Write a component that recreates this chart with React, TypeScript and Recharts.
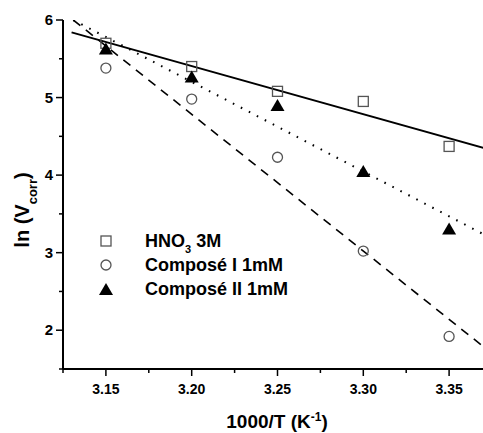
import {
  ScatterChart,
  Scatter,
  XAxis,
  YAxis,
} from "recharts";

const temps = [3.15, 3.2, 3.25, 3.3, 3.35];
const hno3 = [5.7, 5.4, 5.08, 4.95, 4.37];
const composeI = [5.38, 4.98, 4.23, 3.02, 1.92];
const composeII = [5.62, 5.26, 4.89, 4.04, 3.3];

// fit lines, end points
const hno3Fit = [
  { x: 3.13, y: 5.84 },
  { x: 3.375, y: 4.32 },
];
const composeIFit = [
  { x: 3.131, y: 6.0 },
  { x: 3.375, y: 1.7 },
];
const composeIIFit = [
  { x: 3.131, y: 6.0 },
  { x: 3.375, y: 3.18 },
];

const xTicks = [3.125, 3.15, 3.175, 3.2, 3.225, 3.25, 3.275, 3.3, 3.325, 3.35, 3.375];
const yTicks = [1.5, 2, 2.5, 3, 3.5, 4, 4.5, 5, 5.5, 6];
const majorX = [3.15, 3.2, 3.25, 3.3, 3.35];

const font = "'Liberation Sans', Arial, sans-serif";

const toPoints = (ys: number[]) => temps.map((x, i) => ({ x, y: ys[i] }));

const SquareDot = ({ cx, cy }: any) => (
  <rect x={cx - 5} y={cy - 5} width={10} height={10} fill="none" stroke="#555" strokeWidth={1.3} />
);
const CircleDot = ({ cx, cy }: any) => (
  <circle cx={cx} cy={cy} r={5} fill="none" stroke="#555" strokeWidth={1.3} />
);
const TriangleDot = ({ cx, cy }: any) => (
  <polygon points={`${cx},${cy - 7} ${cx - 7},${cy + 5} ${cx + 7},${cy + 5}`} fill="#000" />
);
const NoDot = () => <g />;

const XTick = ({ x, y, payload }: any) => {
  const v = payload.value;
  const major = majorX.some((m) => Math.abs(m - v) < 1e-6);
  return (
    <g>
      <line x1={x} y1={y} x2={x} y2={y + (major ? 7 : 4)} stroke="#000" strokeWidth={1.5} />
      {major && (
        <text x={x} y={y + 25} textAnchor="middle" fontSize={14} fontWeight="bold" fontFamily={font} fill="#000">
          {v.toFixed(2)}
        </text>
      )}
    </g>
  );
};

const YTick = ({ x, y, payload }: any) => {
  const v = payload.value;
  const major = Number.isInteger(v);
  return (
    <g>
      <line x1={x} y1={y} x2={x - (major ? 7 : 4)} y2={y} stroke="#000" strokeWidth={1.5} />
      {major && (
        <text x={x - 10} y={y + 5} textAnchor="end" fontSize={15} fontWeight="bold" fontFamily={font} fill="#000">
          {v}
        </text>
      )}
    </g>
  );
};

const legendRows = [
  { sym: <rect x={1} y={1} width={10} height={10} fill="none" stroke="#555" strokeWidth={1.3} />, label: <>HNO<tspan baselineShift="sub" fontSize={11}>3</tspan> 3M</> },
  { sym: <circle cx={6} cy={6} r={5} fill="none" stroke="#555" strokeWidth={1.3} />, label: <>Composé I 1mM</> },
  { sym: <polygon points="6,0 -1,12 13,12" fill="#000" />, label: <>Composé II 1mM</> },
];

export default function App() {
  return (
    <div style={{ position: "fixed", left: 0, top: 0, width: 483, height: 433, overflow: "hidden", background: "#fff" }}>
      <ScatterChart width={500} height={433} margin={{ top: 20, right: 8, bottom: 0, left: 0 }}>
        <XAxis
          type="number"
          dataKey="x"
          domain={[3.125, 3.375]}
          ticks={xTicks}
          interval={0}
          allowDataOverflow
          height={64}
          tickSize={0}
          tickMargin={0}
          tickLine={false}
          tick={<XTick />}
          axisLine={{ stroke: "#000", strokeWidth: 2 }}
        />
        <YAxis
          type="number"
          dataKey="y"
          domain={[1.5, 6]}
          ticks={yTicks}
          interval={0}
          allowDataOverflow
          width={63}
          tickSize={0}
          tickMargin={0}
          tickLine={false}
          tick={<YTick />}
          axisLine={{ stroke: "#000", strokeWidth: 2 }}
        />
        <Scatter data={hno3Fit} line={{ stroke: "#000", strokeWidth: 2 }} shape={<NoDot />} legendType="none" isAnimationActive={false} />
        <Scatter data={composeIFit} line={{ stroke: "#000", strokeWidth: 1.6, strokeDasharray: "9 7" }} shape={<NoDot />} legendType="none" isAnimationActive={false} />
        <Scatter data={composeIIFit} line={{ stroke: "#000", strokeWidth: 2, strokeDasharray: "1.6 7.4" }} shape={<NoDot />} legendType="none" isAnimationActive={false} />
        <Scatter data={toPoints(hno3)} shape={<SquareDot />} isAnimationActive={false} />
        <Scatter data={toPoints(composeI)} shape={<CircleDot />} isAnimationActive={false} />
        <Scatter data={toPoints(composeII)} shape={<TriangleDot />} isAnimationActive={false} />
      </ScatterChart>
      <svg width={483} height={433} style={{ position: "absolute", left: 0, top: 0, pointerEvents: "none" }}>
        <g transform="translate(100, 234)">
          {legendRows.map((r, i) => (
            <g key={i} transform={`translate(0, ${i * 24})`}>
              <g transform="translate(0, 1)">{r.sym}</g>
              <text x={45} y={13} fontSize={18} fontWeight="bold" fontFamily={font} fill="#000">
                {r.label}
              </text>
            </g>
          ))}
        </g>
        <text transform="translate(29, 210) rotate(-90)" textAnchor="middle" fontSize={20} fontWeight="bold" fontFamily={font} fill="#000">
          ln (V<tspan baselineShift="sub" fontSize={13}>corr</tspan>)
        </text>
        <text x={277} y={428} textAnchor="middle" fontSize={19} fontWeight="bold" fontFamily={font} fill="#000">
          1000/T (K<tspan baselineShift="super" fontSize={12}>-1</tspan>)
        </text>
      </svg>
    </div>
  );
}
